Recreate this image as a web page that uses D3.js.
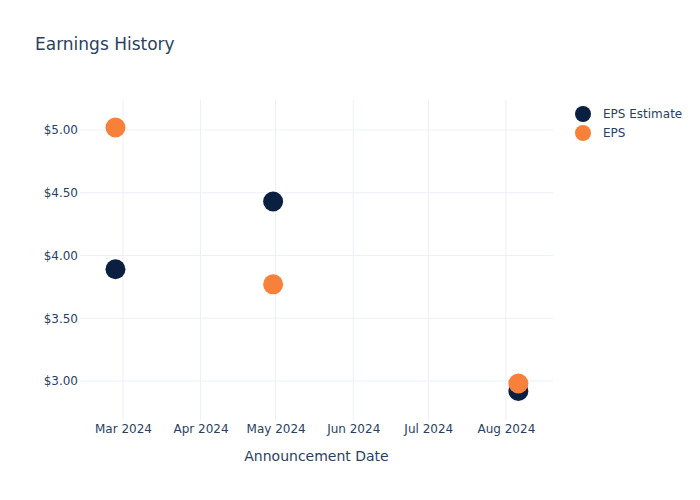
<!DOCTYPE html>
<html>
<head>
<meta charset="utf-8">
<script src="https://cdn.jsdelivr.net/npm/d3@7"></script>
<style>
  body { margin: 0; background: #fff; }
  svg, svg text { font-family: "DejaVu Sans", "Open Sans", sans-serif; }
  svg { display: block; }
</style>
</head>
<body>
<svg id="chart" width="700" height="500"></svg>
<script>
const dates = ["2024-02-27", "2024-04-30", "2024-08-06"];
const epsEstimate = [3.89, 4.43, 2.92];
const eps = [5.02, 3.77, 2.98];
const seriesNames = ["EPS Estimate", "EPS"];
const seriesColors = ["#0b1f41", "#f7813a"];
const yTicks = [3.0, 3.5, 4.0, 4.5, 5.0];
const xDomain = ["2024-02-12T20:00", "2024-08-19T20:00"];
const yDomain = [2.689, 5.239];

const parse = d3.utcParse("%Y-%m-%d");
const parseT = d3.utcParse("%Y-%m-%dT%H:%M");
const svg = d3.select("#chart");
const W = 700, H = 500;
const m = { l: 80, r: 147, t: 100, b: 80 };
const iw = W - m.l - m.r, ih = H - m.t - m.b;
const textColor = "#2a3f5f";
const gridColor = "#ebf0f8";
const font = '"DejaVu Sans", "Open Sans", sans-serif';

svg.append("rect").attr("width", W).attr("height", H).attr("fill", "#fff");

const x = d3.scaleUtc().domain(xDomain.map(parseT)).range([m.l, m.l + iw]);
const y = d3.scaleLinear().domain(yDomain).range([m.t + ih, m.t]);

const xTicks = d3.utcMonth.range(parse("2024-03-01"), parse("2024-08-02"));

// gridlines
const g = svg.append("g");
g.selectAll(".xg").data(xTicks).enter().append("line")
  .attr("x1", d => x(d)).attr("x2", d => x(d))
  .attr("y1", m.t).attr("y2", m.t + ih)
  .attr("stroke", gridColor).attr("stroke-width", 1);
g.selectAll(".yg").data(yTicks).enter().append("line")
  .attr("x1", m.l).attr("x2", m.l + iw)
  .attr("y1", d => y(d)).attr("y2", d => y(d))
  .attr("stroke", gridColor).attr("stroke-width", 1);

// axes
const xAxis = d3.axisBottom(x).tickValues(xTicks).tickFormat(d3.utcFormat("%b %Y")).tickSize(0).tickPadding(4.5);
const xa = svg.append("g").attr("transform", `translate(0,${m.t + ih})`).call(xAxis)
  .attr("font-family", font);
xa.select(".domain").remove();
xa.selectAll("text").attr("fill", textColor).style("font-size", "12px").style("font-family", font);

const yAxis = d3.axisLeft(y).tickValues(yTicks).tickFormat(d => "$" + d3.format(".2f")(d)).tickSize(0).tickPadding(2);
const ya = svg.append("g").attr("transform", `translate(${m.l},0)`).call(yAxis)
  .attr("font-family", font);
ya.select(".domain").remove();
ya.selectAll("text").attr("fill", textColor).style("font-size", "12px").style("font-family", font);

// points
const series = [epsEstimate, eps];
series.forEach((vals, si) => {
  svg.append("g").selectAll("circle").data(vals).enter().append("circle")
    .attr("cx", (d, i) => x(parse(dates[i])))
    .attr("cy", d => y(d))
    .attr("r", 10)
    .attr("fill", seriesColors[si]);
});

// title
svg.append("text").attr("x", 35).attr("y", 50)
  .attr("fill", textColor).style("font-size", "17px").text("Earnings History");

// x axis title
svg.append("text").attr("x", m.l + iw / 2).attr("y", 461)
  .attr("text-anchor", "middle").attr("fill", textColor).style("font-size", "14px")
  .text("Announcement Date");

// legend
const lg = svg.append("g");
seriesNames.forEach((name, i) => {
  const yy = 114 + i * 19;
  lg.append("circle").attr("cx", 583).attr("cy", yy).attr("r", 8).attr("fill", seriesColors[i]);
  lg.append("text").attr("x", 603).attr("y", yy + 4).attr("fill", textColor)
    .style("font-size", "12px").text(name);
});
</script>
</body>
</html>
